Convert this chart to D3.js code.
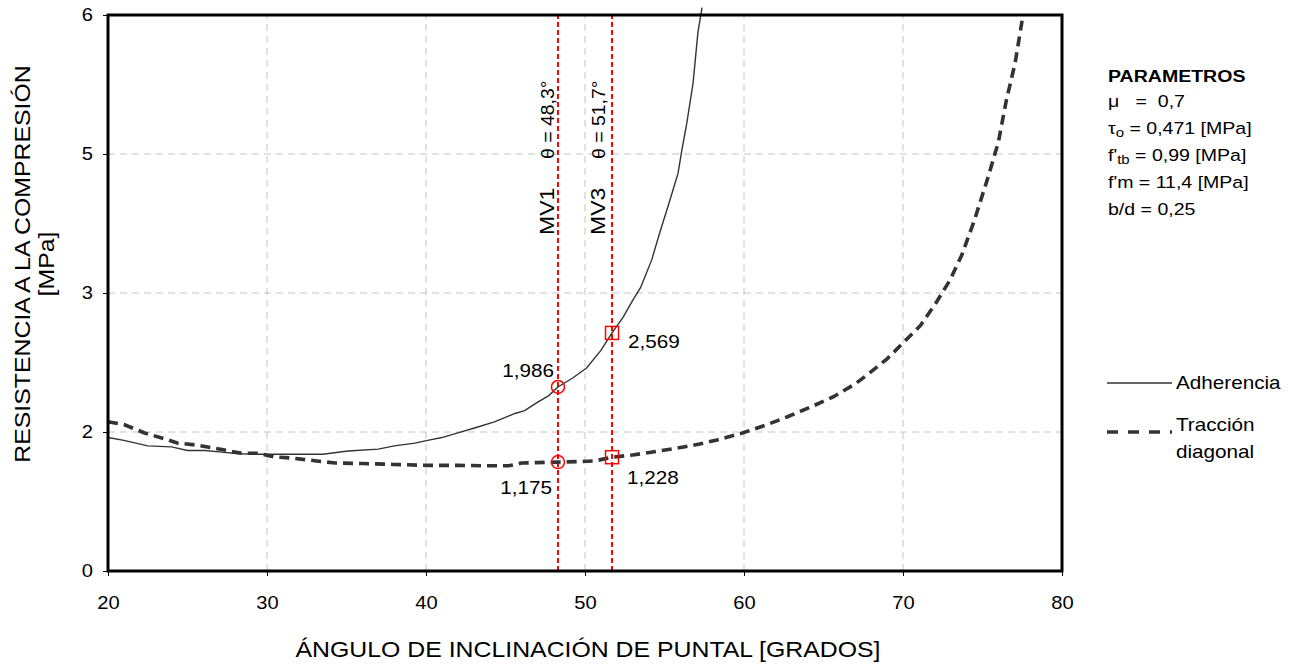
<!DOCTYPE html>
<html>
<head>
<meta charset="utf-8">
<script src="https://cdn.jsdelivr.net/npm/d3@7"></script>
<style>
  body { margin: 0; background: #fff; }
  svg { display: block; }
  text { font-family: "Liberation Sans", Arial, sans-serif; fill: #000; }
</style>
</head>
<body>
<svg id="chart" width="1295" height="664"></svg>
<script>
// Axis ticks (the y axis is 0–6 in steps of 1.5, labels shown rounded to whole numbers)
const xTicks = [20, 30, 40, 50, 60, 70, 80];
const yTicks = [0, 1.5, 3, 4.5, 6];
const yTickLabels = ["0", "2", "3", "5", "6"];

// Resistance by bond failure (Adherencia) vs strut angle
const adherenciaAngles = [20.0, 21.0, 22.5, 24.0, 25.0, 26.1, 27.0, 28.2, 29.5, 31.0, 33.5, 35.1, 37.0, 38.0, 39.3, 40.1, 41.0, 42.0, 43.0, 44.3, 45.6, 46.2, 47.0, 47.7, 48.3, 49.2, 50.1, 51.0, 51.7, 52.4, 53.0, 53.5, 54.2, 54.7, 55.3, 55.85, 56.1, 56.4, 56.8, 57.1, 57.36];
const adherenciaValues = [1.44, 1.41, 1.35, 1.34, 1.30, 1.30, 1.285, 1.265, 1.26, 1.26, 1.26, 1.295, 1.315, 1.35, 1.38, 1.41, 1.44, 1.49, 1.54, 1.61, 1.70, 1.73, 1.82, 1.89, 1.986, 2.08, 2.19, 2.38, 2.569, 2.74, 2.92, 3.06, 3.36, 3.65, 3.98, 4.29, 4.55, 4.83, 5.27, 5.81, 6.08];

// Resistance by diagonal tension (Tracción diagonal) vs strut angle
const traccionAngles = [20.0, 21.0, 22.3, 23.5, 24.4, 25.5, 26.5, 27.5, 28.4, 29.5, 30.5, 31.5, 33.0, 34.3, 36.0, 38.0, 40.0, 42.0, 44.0, 45.2, 46.0, 47.0, 48.3, 49.5, 50.6, 51.7, 53.0, 54.5, 56.2, 57.2, 58.3, 59.9, 61.3, 62.7, 64.2, 65.6, 67.0, 67.9, 69.0, 70.0, 71.1, 72.1, 72.96, 73.7, 74.5, 75.35, 76.0, 76.5, 77.05, 77.5, 77.6];
const traccionValues = [1.61, 1.58, 1.49, 1.43, 1.38, 1.36, 1.33, 1.30, 1.27, 1.27, 1.23, 1.22, 1.19, 1.165, 1.16, 1.15, 1.14, 1.14, 1.135, 1.135, 1.165, 1.17, 1.175, 1.18, 1.187, 1.228, 1.252, 1.29, 1.338, 1.37, 1.414, 1.489, 1.57, 1.662, 1.77, 1.878, 2.02, 2.137, 2.29, 2.46, 2.65, 2.90, 3.14, 3.41, 3.79, 4.25, 4.63, 5.08, 5.48, 5.95, 6.0];

// Walls MV1 and MV3: strut angle and resistance on each curve
const specimenNames = ["MV1", "MV3"];
const specimenAngles = [48.3, 51.7];
const specimenAngleLabels = ["θ = 48,3°", "θ = 51,7°"];
const adherenciaAtSpecimen = [1.986, 2.569];
const traccionAtSpecimen = [1.175, 1.228];

const seriesNames = ["Adherencia", "Tracción", "diagonal"];
const xTitle = "ÁNGULO DE INCLINACIÓN DE PUNTAL [GRADOS]";
const yTitleLines = ["RESISTENCIA A LA COMPRESIÓN", "[MPa]"];

const SX = 1.15;     // horizontal glyph stretch of the chart's typeface
const FS = 17;       // base font size

const svg = d3.select("#chart");
svg.append("rect").attr("width", 1295).attr("height", 664).attr("fill", "#fff");

const x = d3.scaleLinear().domain([20, 80]).range([108, 1062]);
const y = d3.scaleLinear().domain([0, 6]).range([571, 15]);

// stretched text helper
function label(parent, px, py, str, opt = {}) {
  const g = parent.append("g")
    .attr("transform", `translate(${px},${py}) rotate(${opt.rotate || 0}) scale(${opt.sx || SX},1)`);
  const t = g.append("text")
    .attr("text-anchor", opt.anchor || "start")
    .style("font-size", (opt.size || FS) + "px")
    .style("font-weight", opt.weight || "normal")
    .style("white-space", "pre")
    .attr("xml:space", "preserve");
  if (str !== null) t.text(str);
  return t;
}

// gridlines
const grid = svg.append("g");
grid.selectAll("line.v").data(xTicks.slice(1, -1)).join("line")
  .attr("x1", d => x(d)).attr("x2", d => x(d))
  .attr("y1", y(0)).attr("y2", y(6))
  .attr("stroke", "#c4c4c4").attr("stroke-width", 1).attr("stroke-dasharray", "7,5");
grid.selectAll("line.h").data(yTicks.slice(1, -1)).join("line")
  .attr("x1", x(20)).attr("x2", x(80))
  .attr("y1", d => y(d)).attr("y2", d => y(d))
  .attr("stroke", "#c4c4c4").attr("stroke-width", 1).attr("stroke-dasharray", "7,5");

// specimen reference lines
svg.append("g").selectAll("line").data(specimenAngles).join("line")
  .attr("x1", d => x(d)).attr("x2", d => x(d))
  .attr("y1", y(0)).attr("y2", y(6))
  .attr("stroke", "#ff0000").attr("stroke-width", 2).attr("stroke-dasharray", "5,3");

// curves
const line = d3.line().x(d => x(d[0])).y(d => y(d[1]));
const adherencia = adherenciaAngles.map((a, i) => [a, adherenciaValues[i]]);
const traccion = traccionAngles.map((a, i) => [a, traccionValues[i]]);

svg.append("path").datum(traccion)
  .attr("d", line).attr("fill", "none")
  .attr("stroke", "#333").attr("stroke-width", 3.6).attr("stroke-dasharray", "10,6");
svg.append("path").datum(adherencia)
  .attr("d", line).attr("fill", "none")
  .attr("stroke", "#333").attr("stroke-width", 1.4);

// plot frame
svg.append("rect")
  .attr("x", x(20)).attr("y", y(6))
  .attr("width", x(80) - x(20)).attr("height", y(0) - y(6))
  .attr("fill", "none").attr("stroke", "#000").attr("stroke-width", 3);

// axes
const yAxis = svg.append("g").attr("transform", `translate(${x(20)},0)`)
  .call(d3.axisLeft(y).tickValues(yTicks).tickFormat((d, i) => yTickLabels[i]).tickSize(5).tickPadding(8));
const xAxis = svg.append("g").attr("transform", `translate(0,${y(0)})`)
  .call(d3.axisBottom(x).tickValues(xTicks).tickFormat(d3.format("d")).tickSize(5).tickPadding(21));
[yAxis, xAxis].forEach(a => {
  a.select(".domain").remove();
  a.selectAll(".tick line").attr("stroke", "#000").attr("stroke-width", 1);
  a.selectAll(".tick text")
    .attr("fill", "#000")
    .style("font-family", '"Liberation Sans", Arial, sans-serif')
    .style("font-size", "17.5px")
    .attr("transform", `scale(${SX},1)`);
});

// markers on the two curves
const fmt = v => d3.format(".3f")(v).replace(".", ",");
const markers = svg.append("g");
specimenAngles.forEach((a, i) => {
  [adherenciaAtSpecimen[i], traccionAtSpecimen[i]].forEach(v => {
    if (i === 0) {
      markers.append("circle").attr("cx", x(a)).attr("cy", y(v)).attr("r", 6.5)
        .attr("fill", "none").attr("stroke", "#ff0000").attr("stroke-width", 1.5);
    } else {
      markers.append("rect").attr("x", x(a) - 6.5).attr("y", y(v) - 6.5)
        .attr("width", 13).attr("height", 13)
        .attr("fill", "none").attr("stroke", "#ff0000").attr("stroke-width", 1.5);
    }
  });
});

// value labels
label(svg, x(specimenAngles[0]) - 4, y(adherenciaAtSpecimen[0]) - 10, fmt(adherenciaAtSpecimen[0]), { anchor: "end", size: 18 });
label(svg, x(specimenAngles[0]) - 6, y(traccionAtSpecimen[0]) + 32, fmt(traccionAtSpecimen[0]), { anchor: "end", size: 18 });
label(svg, x(specimenAngles[1]) + 16, y(adherenciaAtSpecimen[1]) + 15, fmt(adherenciaAtSpecimen[1]), { size: 18 });
label(svg, x(specimenAngles[1]) + 15, y(traccionAtSpecimen[1]) + 27, fmt(traccionAtSpecimen[1]), { size: 18 });

// vertical specimen annotations
specimenAngles.forEach((a, i) => {
  const bx = x(a) - (i === 0 ? 4 : 7);
  label(svg, bx, 159, specimenAngleLabels[i], { rotate: -90, size: 18.5, sx: 1.05 });
  label(svg, bx, 235, specimenNames[i], { rotate: -90, size: 20 });
});

// axis titles
label(svg, 588, 657, xTitle, { anchor: "middle", size: 21.6 });
label(svg, 30, 264, yTitleLines[0], { anchor: "middle", size: 21.6, rotate: -90 });
label(svg, 54, 264, yTitleLines[1], { anchor: "middle", size: 21.6, rotate: -90 });

// parameters block
label(svg, 1108, 82, "PARAMETROS", { weight: "bold" });
const paramLines = [
  [["μ   =  0,7"]],
  [["τ"], ["o", 1], [" = 0,471 [MPa]"]],
  [["f'"], ["tb", 1], [" = 0,99 [MPa]"]],
  [["f'm = 11,4 [MPa]"]],
  [["b/d = 0,25"]]
];
paramLines.forEach((segs, i) => {
  const t = label(svg, 1108, 107 + i * 27, null);
  let shifted = false;
  segs.forEach(([s, sub]) => {
    const sp = t.append("tspan").text(s);
    if (sub) { sp.attr("dy", 3).style("font-size", "13px"); shifted = true; }
    else if (shifted) { sp.attr("dy", -3); shifted = false; }
  });
});

// legend
const leg = svg.append("g");
leg.append("line").attr("x1", 1107).attr("x2", 1172).attr("y1", 383).attr("y2", 383)
  .attr("stroke", "#333").attr("stroke-width", 1.4);
label(leg, 1176, 389, seriesNames[0], { size: 18 });
leg.append("line").attr("x1", 1107).attr("x2", 1172).attr("y1", 432).attr("y2", 432)
  .attr("stroke", "#333").attr("stroke-width", 3.6).attr("stroke-dasharray", "11,10");
label(leg, 1176, 431, seriesNames[1], { size: 18 });
label(leg, 1176, 458, seriesNames[2], { size: 18 });
</script>
</body>
</html>
